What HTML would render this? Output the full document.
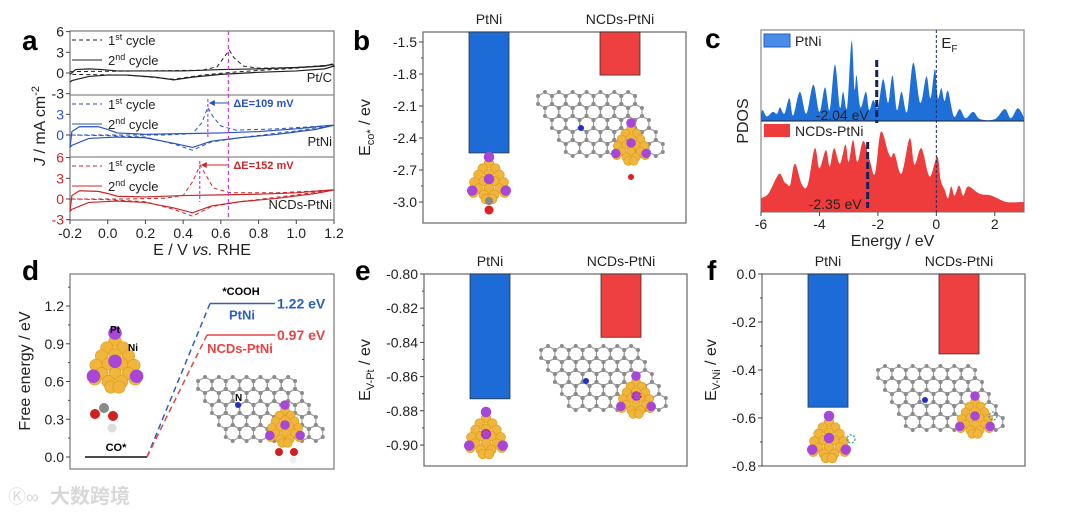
<!DOCTYPE html>
<html><head><meta charset="utf-8">
<style>
html,body{margin:0;padding:0;background:#fff;}
svg{display:block;font-family:"Liberation Sans","Noto Sans CJK SC",sans-serif;}
</style></head>
<body>
<svg id="fig" width="1080" height="516" viewBox="0 0 1080 516" xmlns="http://www.w3.org/2000/svg">
<g id="base">
<text x="22" y="50" font-size="28" font-weight="bold">a</text>
<text x="353" y="50" font-size="28" font-weight="bold">b</text>
<text x="705" y="48" font-size="28" font-weight="bold">c</text>
<text x="22" y="280" font-size="28" font-weight="bold">d</text>
<text x="355" y="280" font-size="28" font-weight="bold">e</text>
<text x="707" y="280" font-size="28" font-weight="bold">f</text>
<text x="50" y="503" font-size="20" fill="#d8d8d8" font-weight="bold">大数跨境</text>
<text x="8" y="503" font-size="18" fill="#d8d8d8">Ⓚ∞</text>
</g>
<g id="pa"></g>
<g id="pb"></g>
<g id="pc"></g>
<g id="pd"></g>
<g id="pe"></g>
<g id="pf"></g>
</svg>
<script>
// ---------- DATA ----------
const cvSamples = ["Pt/C", "PtNi", "NCDs-PtNi"];
const cvColors = ["#222222", "#2a52be", "#c8282a"];
const cvTicksX = [-0.2, 0.0, 0.2, 0.4, 0.6, 0.8, 1.0, 1.2];
const cvTicksY = [-3, 0, 3, 6];
const ptcSolidE = [-0.2,-0.17,-0.1,-0.03,0.05,0.2,0.4,0.6,0.8,1.0,1.15,1.19,1.2,1.15,1.0,0.8,0.6,0.45,0.35,0.25,0.1,0.0,-0.1,-0.19,-0.2];
const ptcSolidJ = [-0.2,0.5,0.6,0.5,0.3,0.3,0.3,0.5,0.6,0.8,1.0,1.3,1.0,0.6,0.3,0.1,-0.2,-0.6,-1.0,-0.6,-0.3,-0.3,-0.5,-1.1,-1.3];
const ptcDashE = [-0.2,0.2,0.5,0.58,0.62,0.645,0.67,0.72,0.8,1.0,1.2,1.0,0.7,0.5,0.35,0.1,-0.2];
const ptcDashJ = [0.2,0.3,0.4,0.9,2.4,3.3,2.2,1.0,0.7,0.8,1.2,0.7,0.2,-0.3,-0.9,-0.3,-0.2];
const ptniSolidE = [-0.2,-0.19,-0.15,-0.05,0.0,0.05,0.2,0.4,0.6,0.8,1.0,1.18,1.2,1.1,0.9,0.7,0.55,0.45,0.35,0.2,0.05,-0.1,-0.19,-0.2];
const ptniSolidJ = [-1.8,0.5,1.2,1.2,0.8,0.3,0.1,0.2,0.3,0.5,0.9,1.4,1.4,0.8,0.1,-0.4,-0.9,-1.8,-1.2,-0.4,-0.3,-0.5,-1.5,-1.8];
const ptniDashE = [-0.2,0.1,0.3,0.45,0.5,0.53,0.56,0.6,0.68,0.9,1.2,1.0,0.7,0.55,0.45,0.35,0.2,0.0,-0.2];
const ptniDashJ = [0.0,0.0,0.0,0.2,1.8,4.0,2.6,1.3,0.7,0.9,1.4,0.6,-0.4,-1.0,-2.2,-1.3,-0.3,-0.1,0.0];
const ncdSolidE = [-0.2,-0.19,-0.15,-0.05,0.0,0.05,0.2,0.4,0.6,0.8,1.0,1.18,1.2,1.1,0.9,0.7,0.55,0.45,0.35,0.2,0.05,-0.1,-0.19,-0.2];
const ncdSolidJ = [-1.8,0.5,1.2,1.1,0.8,0.4,0.3,0.5,0.6,0.7,0.9,1.3,1.3,0.8,0.1,-0.4,-1.0,-2.0,-1.3,-0.5,-0.3,-0.5,-1.5,-1.8];
const ncdDashE = [-0.2,0.1,0.3,0.4,0.45,0.49,0.52,0.56,0.65,0.9,1.2,1.0,0.7,0.55,0.45,0.35,0.2,0.0,-0.2];
const ncdDashJ = [0.0,0.0,0.1,0.5,2.5,4.9,3.5,1.6,0.9,0.9,1.3,0.6,-0.4,-1.1,-2.5,-1.5,-0.4,-0.1,0.0];
const cvPeakE = [0.64, 0.531, 0.488];
const cvDeltaLabels = ["", "ΔE=109 mV", "ΔE=152 mV"];

const barCats = ["PtNi", "NCDs-PtNi"];
const ecoValues = [-2.54, -1.81];
const ecoTicks = [-1.5, -1.8, -2.1, -2.4, -2.7, -3.0];
const evptValues = [-0.873, -0.837];
const evptTicks = [-0.80, -0.82, -0.84, -0.86, -0.88, -0.90];
const evniValues = [-0.555, -0.333];
const evniTicks = [0.0, -0.2, -0.4, -0.6, -0.8];

const pdosTicks = [-6, -4, -2, 0, 2];
const ptniE = [-6.0,-5.94,-5.8,-5.6,-5.45,-5.35,-5.2,-5.03,-4.9,-4.67,-4.45,-4.21,-4.0,-3.81,-3.65,-3.47,-3.3,-3.19,-3.05,-2.9,-2.8,-2.73,-2.6,-2.41,-2.3,-2.16,-2.0,-1.82,-1.65,-1.5,-1.35,-1.19,-1.0,-0.79,-0.55,-0.34,-0.2,-0.05,0.05,0.17,0.28,0.40,0.6,0.8,1.0,1.26,1.5,2.0,2.34,2.55,2.79,3.0];
const ptniV = [0.08,0.12,0.05,0.1,0.08,0.15,0.08,0.25,0.06,0.32,0.08,0.40,0.1,0.37,0.12,0.62,0.15,0.32,0.15,0.88,0.35,0.5,0.15,0.32,0.12,0.23,0.15,0.46,0.2,0.5,0.12,0.32,0.1,0.64,0.2,0.49,0.25,0.57,0.25,0.36,0.22,0.33,0.05,0.13,0.03,0.1,0.02,0.02,0.13,0.03,0.14,0.04];
const ncdE = [-6.0,-5.75,-5.5,-5.35,-5.2,-5.12,-5.0,-4.84,-4.6,-4.4,-4.16,-4.0,-3.78,-3.65,-3.5,-3.3,-3.11,-3.0,-2.85,-2.7,-2.5,-2.28,-2.1,-1.9,-1.65,-1.55,-1.43,-1.19,-0.91,-0.75,-0.51,-0.23,0.03,0.15,0.29,0.4,0.51,0.62,0.78,0.92,1.09,1.48,1.88,2.4,2.96,3.0];
const ncdV = [0.15,0.2,0.36,0.42,0.33,0.31,0.3,0.53,0.3,0.3,0.70,0.48,0.68,0.5,0.70,0.53,0.74,0.55,0.79,0.55,0.78,0.57,0.42,0.88,0.66,0.6,0.64,0.42,0.81,0.52,0.70,0.39,0.61,0.35,0.24,0.15,0.28,0.18,0.29,0.18,0.28,0.2,0.18,0.11,0.11,0.1];
const dbandCenters = [-2.04, -2.35];

const feStates = ["CO*", "*COOH"];
const feValues = [0.0, 1.22, 0.97];
const feTicks = [0.0, 0.3, 0.6, 0.9, 1.2];

// ---------- HELPERS ----------
const NS = "http://www.w3.org/2000/svg";
function mk(parent, tag, attrs, txt){
  const e = document.createElementNS(NS, tag);
  for (const k in attrs) e.setAttribute(k, attrs[k]);
  if (txt !== undefined) e.textContent = txt;
  parent.appendChild(e);
  return e;
}
const fmt = (v, d) => v.toFixed(d);

function smoothPath(pts){
  let d = `M${pts[0][0]},${pts[0][1]}`;
  for (let i = 0; i < pts.length-1; i++){
    const p0 = pts[Math.max(0,i-1)], p1 = pts[i], p2 = pts[i+1], p3 = pts[Math.min(pts.length-1,i+2)];
    const c1x = p1[0] + (p2[0]-p0[0])/6, c1y = p1[1] + (p2[1]-p0[1])/6;
    const c2x = p2[0] - (p3[0]-p1[0])/6, c2y = p2[1] - (p3[1]-p1[1])/6;
    d += ` C${c1x},${c1y} ${c2x},${c2y} ${p2[0]},${p2[1]}`;
  }
  return d;
}

function lattice(g, x0, y0, cols, rows, s){
  const pts = [];
  const hw = s*0.866;
  for (let r = 0; r < rows; r++){
    for (let c = 0; c < cols; c++){
      const cx = x0 + c*2*hw + r*hw;
      const cy = y0 + r*1.5*s;
      const hex = [];
      for (let k = 0; k < 6; k++){
        const a = Math.PI/180*(60*k - 90);
        hex.push([cx + s*Math.cos(a), cy + s*Math.sin(a)]);
      }
      const p = mk(g, "polygon", {points: hex.map(q=>q.join(",")).join(" "), fill:"none", stroke:"#999", "stroke-width":1.1});
      
      
      hex.forEach(q => pts.push(q));
    }
  }
  pts.forEach(q => {
    const c = mk(g, "circle", {cx:q[0], cy:q[1], r:2, fill:"#8c8c8c"});
    
    
  });
}
function cluster(g, cx, cy, s){
  const gold = [[0,-14],[-6,-9],[6,-9],[-10,-3],[0,-4],[10,-3],[-14,4],[-5,3],[5,3],[14,4],[-10,10],[0,10],[10,10],[-15,14],[-5,16],[5,16],[15,14],[0,-20],[-3,20],[3,20]];
  const purp = [[0,-20],[-16,12],[16,12],[0,1]];
  gold.forEach(p => {
    const c = mk(g, "circle", {cx:cx+p[0]*s, cy:cy+p[1]*s, r:4.6*s, fill:"#f0b53a", stroke:"#d89a20", "stroke-width":0.6});
    
    
  });
  purp.forEach(p => {
    const c = mk(g, "circle", {cx:cx+p[0]*s, cy:cy+p[1]*s, r:5*s, fill:"#a846d8"});
    
    
  });
}
function atom(g, x, y, r, col, name){
  const c = mk(g, "circle", {cx:x, cy:y, r:r, fill:col});
  
  
}

function barPanel(g, box, ticks, vals, yfn, dec, titleMain, titleSub, titleX){
  const fr = mk(g, "rect", {x:box.x0, y:box.y0, width:box.x1-box.x0, height:box.y1-box.y0, fill:"none", stroke:"#666", "stroke-width":1.2});
  
  
  ticks.forEach(t => {
    const y = yfn(t);
    mk(g, "line", {x1:box.x0-4, x2:box.x0, y1:y, y2:y, stroke:"#444"});
    const tl = mk(g, "text", {x:box.x0-6, y:y+5, "font-size":14, "text-anchor":"end", fill:"#222"}, fmt(t, dec));
    
    
  });
  for (let i = 0; i < ticks.length-1; i++){
    const ym = (yfn(ticks[i])+yfn(ticks[i+1]))/2;
    mk(g, "line", {x1:box.x0-2, x2:box.x0, y1:ym, y2:ym, stroke:"#444"});
  }
  const cols = ["#1d6bd6", "#ee4040"];
  const xs = [box.x0+46, box.x0+177];
  vals.forEach((v, i) => {
    const yb = yfn(v);
    const r = mk(g, "rect", {x:xs[i], y:box.y0, width:40, height:yb-box.y0, fill:cols[i], stroke:"#333", "stroke-width":0.8});
    
    
    const lb = mk(g, "text", {x:xs[i]+20, y:box.y0-8, "font-size":14, "text-anchor":"middle", fill:"#222"}, barCats[i]);
    
    
  });
  const yc = (box.y0+box.y1)/2;
  const t = mk(g, "text", {transform:`translate(${titleX},${yc}) rotate(-90)`, "font-size":16, "text-anchor":"middle", fill:"#222"});
  
  
  mk(t, "tspan", {}, titleMain);
  mk(t, "tspan", {"font-size":11, dy:4}, titleSub);
  mk(t, "tspan", {dy:-4}, " / ev");
}

// ---------- PANEL A ----------
(function(){
  const g = document.getElementById("pa");
  const X0 = 70, X1 = 334;
  const xa = E => X0 + (E + 0.2) * (X1 - X0) / 1.4;
  const zeros = [73, 135, 199];
  const tops = [31, 95, 157];
  const sc = 6.9;
  const ya = (J, k) => zeros[k] - J * sc;
  const frame = mk(g, "rect", {x:X0, y:31, width:X1-X0, height:189, fill:"none", stroke:"#777", "stroke-width":1.2});
  
  
  [95, 157].forEach(y => { mk(g, "line", {x1:X0, x2:X1, y1:y, y2:y, stroke:"#888", "stroke-width":1.2}); });
  cvTicksX.forEach(E => {
    mk(g, "line", {x1:xa(E), x2:xa(E), y1:220, y2:224, stroke:"#444"});
    const t = mk(g, "text", {x:xa(E), y:238, "font-size":14, "text-anchor":"middle", fill:"#222"}, fmt(E,1));
    
    
  });
  const xt = mk(g, "text", {x:(X0+X1)/2, y:255, "font-size":16, "text-anchor":"middle", fill:"#222"});
  
  
  mk(xt, "tspan", {}, "E / V ");
  mk(xt, "tspan", {"font-style":"italic"}, "vs.");
  mk(xt, "tspan", {}, " RHE");
  const yt = mk(g, "text", {transform:"translate(45,126) rotate(-90)", "font-size":16, "text-anchor":"middle", fill:"#222"});
  
  
  mk(yt, "tspan", {"font-style":"italic"}, "J");
  mk(yt, "tspan", {}, " / mA cm");
  mk(yt, "tspan", {"font-size":11, dy:-6}, "-2");

  const solids = [[ptcSolidE, ptcSolidJ],[ptniSolidE, ptniSolidJ],[ncdSolidE, ncdSolidJ]];
  const dashes = [[ptcDashE, ptcDashJ],[ptniDashE, ptniDashJ],[ncdDashE, ncdDashJ]];
  for (let k = 0; k < 3; k++){
    const col = cvColors[k];
    const tickCol = k === 0 ? "#222" : col;
    cvTicksY.forEach(J => {
      if (k === 1 && (J === -3 || J === 6)) return;
      const y = ya(J, k);
      mk(g, "line", {x1:X0-4, x2:X0, y1:y, y2:y, stroke:"#444"});
      const t = mk(g, "text", {x:X0-6, y:y+5, "font-size":14, "text-anchor":"end", fill:tickCol}, String(J));
      
      
    });
    const sp = mk(g, "polyline", {points: solids[k][0].map((E,i)=>xa(E)+","+ya(solids[k][1][i],k)).join(" "), fill:"none", stroke:col, "stroke-width":1.2});
    
    
    const dp = mk(g, "polyline", {points: dashes[k][0].map((E,i)=>xa(E)+","+ya(dashes[k][1][i],k)).join(" "), fill:"none", stroke:col, "stroke-width":1, "stroke-dasharray":"4,3"});
    
    
    const ly = tops[k];
    mk(g, "line", {x1:72, x2:102, y1:ly+9, y2:ly+9, stroke:col, "stroke-dasharray":"4,3"});
    mk(g, "line", {x1:72, x2:102, y1:ly+29, y2:ly+29, stroke:col});
    const l1 = mk(g, "text", {x:108, y:ly+14, "font-size":13, fill:"#222"});
    
    
    mk(l1, "tspan", {}, "1");
    mk(l1, "tspan", {"font-size":9, dy:-5}, "st");
    mk(l1, "tspan", {dy:5}, " cycle");
    const l2 = mk(g, "text", {x:108, y:ly+34, "font-size":13, fill:"#222"});
    
    
    mk(l2, "tspan", {}, "2");
    mk(l2, "tspan", {"font-size":9, dy:-5}, "nd");
    mk(l2, "tspan", {dy:5}, " cycle");
    const sl = mk(g, "text", {x:332, y:[82,146,209][k], "font-size":13, "text-anchor":"end", fill:"#222"}, cvSamples[k]);
    
    
    if (k > 0){
      const xp = xa(cvPeakE[k]);
      const yTop = tops[k];
      mk(g, "line", {x1:xp, x2:xp, y1:yTop+4, y2:zeros[k]+3, stroke:"#d040d8", "stroke-dasharray":"3,2", "stroke-width":1.2});
      const ay = yTop + 8;
      mk(g, "line", {x1:xa(cvPeakE[0]), x2:xp+2, y1:ay, y2:ay, stroke:col, "stroke-width":1});
      mk(g, "polygon", {points:`${xp+1},${ay} ${xp+7},${ay-3} ${xp+7},${ay+3}`, fill:col});
      const dl = mk(g, "text", {x:xa(cvPeakE[0])+5, y:ay+4, "font-size":11, "font-weight":"bold", fill:col}, cvDeltaLabels[k]);
      
      
    }
  }
  const vx = xa(cvPeakE[0]);
  const vl = mk(g, "line", {x1:vx, x2:vx, y1:31, y2:220, stroke:"#d040d8", "stroke-dasharray":"4,3", "stroke-width":1.2});
  
  
})();

// ---------- PANEL B ----------
(function(){
  const g = document.getElementById("pb");
  const yb = v => 42 + (-1.5 - v) * 106.67;
  barPanel(g, {x0:423, x1:686, y0:32, y1:223}, ecoTicks, ecoValues, yb, 1, "E", "co*", 370);
  cluster(g, 489, 178, 1.05);
  atom(g, 489, 201, 4, "#888", "carbon-atom");
  atom(g, 489, 210, 4.5, "#e02020", "oxygen-atom");
  lattice(g, 545, 100, 7, 5, 8);
  atom(g, 581, 128, 3, "#2030d0", "nitrogen-atom");
  cluster(g, 631, 142, 0.95);
  atom(g, 631, 177, 3, "#e02020", "oxygen-atom");
})();

// ---------- PANEL C ----------
(function(){
  const g = document.getElementById("pc");
  const X0 = 761, X1 = 1024;
  const xc = E => X0 + (E + 6) * (X1 - X0) / 9;
  const yTop = v => 121 - v * 91;
  const yBot = v => 212 - v * 91;
  const fr = mk(g, "rect", {x:X0, y:30, width:X1-X0, height:182, fill:"none", stroke:"#999", "stroke-width":1.4});
  
  
  const bp = ptniE.map((E,i)=>[xc(E), yTop(ptniV[i])]);
  const pa = mk(g, "path", {d: smoothPath(bp) + ` L${xc(ptniE[ptniE.length-1])},121 L${xc(ptniE[0])},121 Z`, fill:"#1f6fd8"});
  
  
  const rp = ncdE.map((E,i)=>[xc(E), yBot(ncdV[i])]);
  const ra = mk(g, "path", {d: smoothPath(rp) + ` L${xc(ncdE[ncdE.length-1])},212 L${xc(ncdE[0])},212 Z`, fill:"#ee3b3b"});
  
  
  mk(g, "line", {x1:X0, x2:X1, y1:121, y2:121, stroke:"#222", "stroke-width":1});
  mk(g, "line", {x1:xc(0), x2:xc(0), y1:30, y2:212, stroke:"#1a2a6a", "stroke-dasharray":"3,2", "stroke-width":1});
  const ef = mk(g, "text", {x:xc(0)+5, y:48, "font-size":15, fill:"#222"});
  
  
  mk(ef, "tspan", {}, "E");
  mk(ef, "tspan", {"font-size":10, dy:4}, "F");
  const d1 = mk(g, "line", {x1:xc(dbandCenters[0]), x2:xc(dbandCenters[0]), y1:60, y2:123, stroke:"#15225a", "stroke-dasharray":"7,3", "stroke-width":3});
  
  
  const d2 = mk(g, "line", {x1:xc(dbandCenters[1]), x2:xc(dbandCenters[1]), y1:142, y2:208, stroke:"#15225a", "stroke-dasharray":"7,3", "stroke-width":3});
  
  
  const t1 = mk(g, "text", {x:xc(dbandCenters[0])-8, y:120, "font-size":14, "text-anchor":"end", fill:"#222"}, fmt(dbandCenters[0],2)+" eV");
  
  
  const t2 = mk(g, "text", {x:xc(dbandCenters[1])-6, y:209, "font-size":14, "text-anchor":"end", fill:"#222"}, fmt(dbandCenters[1],2)+" eV");
  
  
  mk(g, "rect", {x:764, y:34, width:26, height:13, fill:"#4a8ce6", stroke:"#1f5fc0"});
  const lg1 = mk(g, "text", {x:795, y:46, "font-size":14, fill:"#222"}, "PtNi");
  
  
  mk(g, "rect", {x:764, y:124, width:26, height:13, fill:"#ee3b3b"});
  const lg2 = mk(g, "text", {x:795, y:136, "font-size":14, fill:"#222"}, "NCDs-PtNi");
  
  
  pdosTicks.forEach(E => {
    mk(g, "line", {x1:xc(E), x2:xc(E), y1:212, y2:216, stroke:"#444"});
    const t = mk(g, "text", {x:xc(E), y:229, "font-size":14, "text-anchor":"middle", fill:"#222"}, String(E));
    
    
  });
  const xt = mk(g, "text", {x:(X0+X1)/2, y:246, "font-size":16, "text-anchor":"middle", fill:"#222"}, "Energy / eV");
  
  
  const yt = mk(g, "text", {transform:"translate(748,121) rotate(-90)", "font-size":16, "text-anchor":"middle", fill:"#222"}, "PDOS");
  
  
})();

// ---------- PANEL D ----------
(function(){
  const g = document.getElementById("pd");
  const X0 = 70, X1 = 334, Y0 = 274, Y1 = 469;
  const yd = v => 457 - v * 125.8;
  const fr = mk(g, "rect", {x:X0, y:Y0, width:X1-X0, height:Y1-Y0, fill:"none", stroke:"#777", "stroke-width":1.2});
  
  
  feTicks.forEach(t => {
    mk(g, "line", {x1:X0-4, x2:X0, y1:yd(t), y2:yd(t), stroke:"#444"});
    mk(g, "line", {x1:X0-2, x2:X0, y1:yd(t+0.15), y2:yd(t+0.15), stroke:"#444"});
    const tl = mk(g, "text", {x:X0-6, y:yd(t)+5, "font-size":14, "text-anchor":"end", fill:"#222"}, fmt(t,1));
    
    
  });
  const yt = mk(g, "text", {transform:"translate(30,371) rotate(-90)", "font-size":16, "text-anchor":"middle", fill:"#222"}, "Free energy / eV");
  
  
  const l0 = mk(g, "line", {x1:85, x2:147, y1:yd(feValues[0]), y2:yd(feValues[0]), stroke:"#111", "stroke-width":1.5});
  
  
  const c0 = mk(g, "text", {x:116, y:yd(feValues[0])-6, "font-size":11, "font-weight":"bold", "text-anchor":"middle"}, feStates[0]);
  
  
  const cols = ["#2a5fbf", "#e84444"];
  const starts = [210, 207];
  const names = ["PtNi", "NCDs-PtNi"];
  [1,2].forEach((idx, i) => {
    const y = yd(feValues[idx]);
    const dl = mk(g, "line", {x1:147, y1:yd(feValues[0]), x2:starts[i], y2:y, stroke:cols[i], "stroke-width":1.5, "stroke-dasharray":"6,4"});
    
    
    const lv = mk(g, "line", {x1:starts[i], x2:275, y1:y, y2:y, stroke:cols[i], "stroke-width":1.5});
    
    
    const vt = mk(g, "text", {x:277, y:y+5, "font-size":14, "font-weight":"bold", fill:cols[i]}, fmt(feValues[idx],2)+" eV");
    
    
    const nt = mk(g, "text", {x:i===0?242:240, y:y+(i===0?16:18), "font-size":13, "font-weight":"bold", "text-anchor":"middle", fill:cols[i]}, names[i]);
    
    
  });
  const ct = mk(g, "text", {x:241, y:295, "font-size":11, "font-weight":"bold", "text-anchor":"middle"}, feStates[1]);
  
  
  cluster(g, 115, 360, 1.35);
  const pt = mk(g, "text", {x:110, y:333, "font-size":10, "font-weight":"bold"}, "Pt");
   
  const ni = mk(g, "text", {x:128, y:351, "font-size":10, "font-weight":"bold"}, "Ni");
   
  atom(g, 104, 408, 5, "#888", "carbon-atom");
  atom(g, 95, 414, 5, "#d02020", "oxygen-atom");
  atom(g, 113, 416, 5, "#d02020", "oxygen-atom");
  atom(g, 112, 428, 4.5, "#ddd", "hydrogen-atom");
  lattice(g, 205, 385, 7, 5, 8);
  const nl = mk(g, "text", {x:235, y:401, "font-size":10, "font-weight":"bold"}, "N");
   
  atom(g, 238, 405, 3, "#2030d0", "nitrogen-atom");
  cluster(g, 285, 424, 0.95);
  atom(g, 279, 452, 4, "#d02020", "oxygen-atom");
  atom(g, 294, 452, 4, "#d02020", "oxygen-atom");
  atom(g, 293, 460, 3.5, "#eee", "hydrogen-atom");
})();

// ---------- PANEL E ----------
(function(){
  const g = document.getElementById("pe");
  const ye = v => 274 + (-0.8 - v) * 1710;
  barPanel(g, {x0:424, x1:687, y0:274, y1:466}, evptTicks, evptValues, ye, 2, "E", "V-Pt", 370);
  cluster(g, 486, 433, 1.05);
  mk(g, "circle", {cx:486, cy:434, r:4, fill:"none", stroke:"#e02020", "stroke-dasharray":"2,1.5", "stroke-width":1.2});
  lattice(g, 548, 354, 7, 5, 8);
  atom(g, 586, 381, 3, "#2030d0", "nitrogen-atom");
  cluster(g, 636, 395, 0.95);
  mk(g, "circle", {cx:637, cy:396, r:4, fill:"none", stroke:"#e02020", "stroke-dasharray":"2,1.5", "stroke-width":1.2});
})();

// ---------- PANEL F ----------
(function(){
  const g = document.getElementById("pf");
  const yf = v => 274 - v * 240;
  barPanel(g, {x0:762, x1:1025, y0:274, y1:466}, evniTicks, evniValues, yf, 1, "E", "V-Ni", 716);
  cluster(g, 829, 437, 1.05);
  mk(g, "circle", {cx:851, cy:439, r:4, fill:"none", stroke:"#2a90d0", "stroke-dasharray":"2,1.5", "stroke-width":1.2});
  lattice(g, 885, 374, 7, 5, 8);
  atom(g, 925, 400, 3, "#2030d0", "nitrogen-atom");
  cluster(g, 975, 415, 0.95);
  mk(g, "circle", {cx:993, cy:416, r:4, fill:"none", stroke:"#2a90d0", "stroke-dasharray":"2,1.5", "stroke-width":1.2});
})();
</script>
</body></html>
